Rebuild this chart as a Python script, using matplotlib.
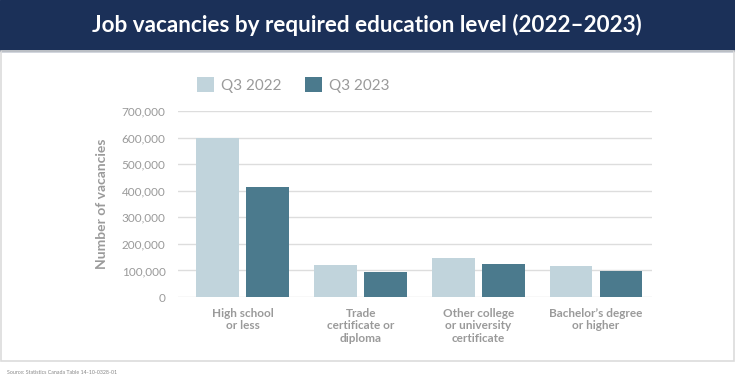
import matplotlib.pyplot as plt
import numpy as np
from matplotlib.patches import Rectangle

# Datos
categorias = ['High school\nor less', 'Trade\ncertificate or\ndiploma',
              'Other college\nor university\ncertificate', 'Bachelor\u2019s degree\nor higher']
q3_2022 = [600000, 120000, 147000, 117000]
q3_2023 = [414000, 94000, 125000, 99000]
series = ['Q3 2022', 'Q3 2023']
yticks = [0, 100000, 200000, 300000, 400000, 500000, 600000, 700000]

# Colores
navy = '#1b3058'
claro = '#c1d4dc'
oscuro = '#4b7a8d'
gris = '#9a9a9a'

plt.rcParams['font.family'] = ['Lato', 'DejaVu Sans']

fig = plt.figure(figsize=(7.35, 3.84), dpi=100)
W, H = 735, 384

# Banda del titulo
fig.patches.append(Rectangle((0, 1 - 51 / H), 1, 51 / H, transform=fig.transFigure,
                             color=navy, zorder=0))
# Marco gris claro
fig.patches.append(Rectangle((1 / W, 1 - 361 / H), 733 / W, 310 / H, transform=fig.transFigure,
                             fill=False, edgecolor='#dcdcdc', linewidth=1.2, zorder=0))
fig.text(367 / W, 1 - 25 / H, 'Job vacancies by required education level (2022\u20132023)',
         color='white', fontsize=16.2, fontweight='bold',
         ha='center', va='center')

# Ejes
ax = fig.add_axes([178 / W, 1 - 297 / H, (652 - 178) / W, (297 - 111) / H])
x = np.arange(len(categorias))
ancho = 0.365
ax.bar(x - 0.2125, q3_2022, width=ancho, color=claro, label=series[0], zorder=2)
ax.bar(x + 0.2125, q3_2023, width=ancho, color=oscuro, label=series[1], zorder=2)

ax.set_xlim(-0.552, 3.476)
ax.set_ylim(0, 700000)
ax.set_yticks(yticks)
ax.set_yticklabels([f'{v:,}' for v in yticks], color=gris, fontsize=8.5)
ax.set_xticks(x)
ax.set_xticklabels(categorias, color=gris, fontsize=8.5, fontweight='bold', linespacing=1.15)
ax.tick_params(length=0, pad=9)
ax.tick_params(axis='x', pad=8)
ax.grid(axis='y', color='#dddddd', linewidth=1, zorder=0)
for s in ax.spines.values():
    s.set_visible(False)
ax.set_ylabel('Number of vacancies', color=gris, fontsize=10, fontweight='bold', labelpad=10)

ax.legend(loc='lower left', bbox_to_anchor=(197 / W, 1 - 93 / H), bbox_transform=fig.transFigure,
          ncol=2, frameon=False, fontsize=11, handlelength=1.1, handleheight=1.1,
          columnspacing=1.5, handletextpad=0.5, labelcolor=gris, borderaxespad=0, borderpad=0)

fig.text(7 / W, 1 - 372 / H, 'Source: Statistics Canada Table 14-10-0328-01',
         color='#888888', fontsize=3.8, ha='left', va='center')

fig.savefig('out.png', dpi=100)
